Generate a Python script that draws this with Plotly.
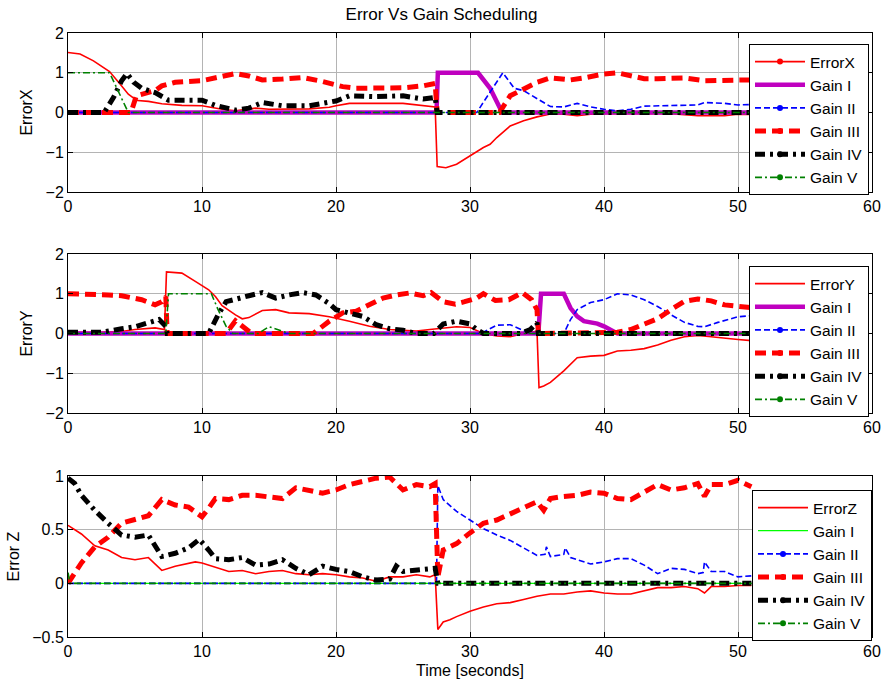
import plotly.graph_objects as go

# ---------------- data: subplot 1 (ErrorX) ----------------
errX_t = [0, 0.9, 1.9, 3.1, 3.9, 4.5, 4.9, 5.2, 6, 7, 8.5, 10, 11.5, 12.5, 14, 15, 18, 19.5, 20, 21, 25, 26, 27.4,
          27.55, 28.2, 29, 30, 31, 31.5, 32, 33, 34, 35, 36, 37, 38, 39, 40, 45, 47, 49, 50, 51]
errX = [1.51, 1.47, 1.3, 1.03, 0.71, 0.46, 0.36, 0.3, 0.28, 0.22, 0.18, 0.17, 0.08, 0.04, 0.11, 0.08, 0.09, 0.13,
        0.17, 0.23, 0.23, 0.19, 0.14, -1.36, -1.39, -1.3, -1.09, -0.88, -0.8, -0.63, -0.34, -0.21, -0.11, -0.04,
        -0.04, -0.08, -0.04, -0.03, -0.03, -0.08, -0.08, -0.04, -0.05]
g1X_t = [0, 27.5, 27.6, 30.6, 31.5, 32.3, 32.4, 51]
g1X = [0, 0, 1, 1, 0.61, 0.04, 0, 0]
g2X_t = [0, 30.5, 32.45, 33.3, 34, 35, 36, 37, 38, 39, 40, 41, 42, 43, 45, 47, 47.5, 49, 50, 51]
g2X = [0, 0, 1.0, 0.61, 0.55, 0.34, 0.15, 0.14, 0.23, 0.14, 0.08, 0.04, 0.08, 0.16, 0.17, 0.19, 0.25, 0.23, 0.19, 0.2]
g3X_t = [0, 4.7, 5.1, 5.5, 6.5, 7, 8, 10, 11, 12.5, 13.5, 14.5, 16, 17.5, 19, 20.5, 21.5, 24, 25, 26.5, 27.4,
         27.55, 32.2, 33, 34, 35, 36, 37.5, 38.5, 40, 41, 42, 43, 44, 46, 47.5, 49, 50, 51]
g3X = [0, 0, 0.42, 0.46, 0.55, 0.67, 0.76, 0.8, 0.88, 0.98, 0.92, 0.82, 0.84, 0.88, 0.78, 0.65, 0.61, 0.62, 0.62,
       0.67, 0.73, 0, 0, 0.42, 0.59, 0.76, 0.87, 0.82, 0.87, 0.97, 1.0, 0.92, 0.85, 0.85, 0.87, 0.8, 0.82, 0.82, 0.82]
g4X_t = [0, 2.7, 3.4, 4.0, 4.4, 4.9, 5.5, 6.5, 7.5, 8.5, 10, 11, 12.5, 13.5, 14.5, 16, 18, 19, 20, 21, 23, 25,
         26.5, 27.4, 27.55, 51]
g4X = [0, 0, 0.38, 0.8, 0.98, 0.76, 0.61, 0.5, 0.31, 0.31, 0.31, 0.18, 0.06, 0.11, 0.25, 0.17, 0.17, 0.23, 0.29,
       0.42, 0.4, 0.42, 0.34, 0.38, 0, 0]
g5X_t = [0, 3.1, 4.5, 51]
g5X = [1, 1, 0, 0]

# ---------------- data: subplot 2 (ErrorY) ----------------
errY_t = [0, 2, 4, 5, 6.5, 7.2, 7.35, 8.5, 9.5, 10.5, 11, 11.5, 12.5, 13, 13.5, 14.5, 15.5, 16.5, 18, 19.5, 21,
          22.5, 24, 26, 27, 28, 29, 30, 31, 32, 33, 34, 35, 35.15, 35.5, 36, 37, 38, 39, 40, 41, 42, 43, 44, 45,
          46, 47, 48, 49, 50, 51]
errY = [0.03, 0.03, 0.05, 0.1, 0.14, 0.1, 1.55, 1.52, 1.31, 1.1, 0.93, 0.7, 0.47, 0.37, 0.4, 0.58, 0.6, 0.52, 0.5,
        0.42, 0.31, 0.18, 0.1, 0.06, 0.1, 0.14, 0.17, 0.15, 0.0, -0.06, -0.08, 0.0, 0.06, -1.36, -1.32, -1.23,
        -0.94, -0.61, -0.57, -0.55, -0.44, -0.42, -0.38, -0.29, -0.17, -0.08, -0.05, -0.08, -0.12, -0.15, -0.18]
g1Y_t = [0, 35.1, 35.3, 37, 37.5, 38, 38.5, 39.5, 40, 40.7, 41, 51]
g1Y = [0, 0, 1, 1, 0.64, 0.43, 0.31, 0.25, 0.18, 0.06, 0, 0]
g2Y_t = [0, 30.8, 32, 33, 34.5, 37, 37.5, 38, 39, 40, 41, 42, 43, 44, 45, 46, 47, 47.5, 48.5, 50, 51]
g2Y = [0, 0, 0.21, 0.22, 0, 0, 0.35, 0.6, 0.78, 0.85, 1.0, 0.97, 0.85, 0.68, 0.47, 0.28, 0.18, 0.17, 0.28, 0.42, 0.45]
g3Y_t = [0, 2, 3, 4, 5.5, 6.5, 7, 7.3, 7.4, 11.8, 12.5, 13.7, 18.3, 19.5, 20.5, 21.5, 22.5, 23.5, 24.5, 25.5,
         26.5, 27.1, 28, 28.9, 29.6, 30.5, 31, 31.9, 32.9, 33.9, 34.6, 35.0, 35.1, 40.5, 41, 42, 43, 44, 45, 46,
         47, 48, 49, 50, 51]
g3Y = [1.0, 1.0, 0.97, 0.95, 0.85, 0.72, 0.8, 0.93, 0, 0, 0.32, 0, 0, 0.31, 0.52, 0.56, 0.72, 0.89, 0.97, 1.02,
       0.95, 1.03, 0.8, 0.74, 0.8, 0.89, 1.0, 0.83, 0.85, 1.03, 0.85, 0.6, 0, 0, 0.03, 0.1, 0.22, 0.37, 0.6, 0.81,
       0.87, 0.82, 0.72, 0.68, 0.65]
g4Y_t = [0, 2.5, 4, 5, 6, 6.8, 7.3, 7.4, 10.5, 11.2, 11.8, 12.5, 13.5, 14.5, 15.5, 16.5, 17.5, 18.5, 19.5, 20,
         21, 22, 23, 24, 25, 26, 27.3, 28, 29, 30, 30.5, 31, 33.8, 34.5, 35, 35.1, 51]
g4Y = [0.03, 0.03, 0.12, 0.17, 0.27, 0.35, 0.18, 0, 0, 0.47, 0.8, 0.85, 0.95, 1.03, 0.89, 0.97, 1.03, 0.97, 0.75,
       0.6, 0.52, 0.43, 0.22, 0.12, 0.08, 0, 0, 0.24, 0.31, 0.24, 0.1, 0, 0, 0.1, 0.27, 0, 0]
g5Y_t = [0, 7.3, 7.5, 10.7, 11.2, 11.8, 12.3, 14.2, 15, 16, 16.5, 51]
g5Y = [0, 0, 1, 1, 0.6, 0.18, 0, 0, 0.17, 0.05, 0, 0]

# ---------------- data: subplot 3 (Error Z) ----------------
errZ_t = [0, 1, 2, 3, 4, 5, 6, 7, 8, 9.5, 10, 11, 12, 13, 14, 15, 16, 17, 18, 19, 20, 21, 22, 23, 24, 25, 26, 27,
          27.4, 27.6, 28, 28.5, 29, 30, 31, 32, 33, 34, 35, 36, 37, 38, 39, 40, 41, 42, 43, 44, 45, 46, 47, 47.5,
          48, 49, 50, 51]
errZ = [0.54, 0.46, 0.35, 0.31, 0.24, 0.22, 0.24, 0.12, 0.16, 0.2, 0.19, 0.15, 0.11, 0.12, 0.09, 0.11, 0.12, 0.09,
        0.08, 0.09, 0.08, 0.06, 0.05, 0.02, 0.06, 0.06, 0.08, 0.06, 0.08, -0.43, -0.36, -0.34, -0.31, -0.26, -0.22,
        -0.19, -0.18, -0.15, -0.12, -0.1, -0.1, -0.08, -0.07, -0.09, -0.1, -0.1, -0.07, -0.04, -0.04, -0.03, -0.05,
        -0.09, -0.03, -0.03, -0.02, -0.02]
g1Z_t = [0, 51]
g1Z = [0, 0]
g2Z_t = [0, 27.5, 27.6, 28, 29, 30, 31, 32, 33, 34, 35, 35.6, 35.7, 36, 37, 37.1, 37.5, 38, 39, 40, 41, 42, 43, 44,
         45, 46, 47, 47.4, 47.5, 48, 49, 50, 51]
g2Z = [0, 0, 0.91, 0.78, 0.67, 0.59, 0.51, 0.45, 0.4, 0.33, 0.26, 0.27, 0.34, 0.25, 0.27, 0.33, 0.24, 0.22, 0.18,
       0.2, 0.23, 0.23, 0.17, 0.09, 0.14, 0.13, 0.09, 0.1, 0.2, 0.11, 0.11, 0.06, 0.07]
g3Z_t = [0, 1, 2, 3, 4, 5, 6, 7, 7.5, 8, 9, 10, 10.5, 11, 12, 13, 14, 15, 16, 17, 18, 19, 20, 21, 22, 23, 24, 25,
         26, 27, 27.4, 27.6, 28, 29, 30, 31, 32, 33, 34, 35, 35.5, 36, 37, 38, 39, 40, 41, 42, 43, 44, 45, 46, 47,
         47.5, 48, 49, 50, 51]
g3Z = [0, 0.19, 0.34, 0.43, 0.56, 0.59, 0.63, 0.78, 0.75, 0.73, 0.71, 0.62, 0.7, 0.79, 0.78, 0.82, 0.82, 0.81,
       0.79, 0.89, 0.87, 0.84, 0.87, 0.92, 0.95, 0.98, 0.99, 0.87, 0.92, 0.9, 0.93, 0.06, 0.31, 0.37, 0.47, 0.56,
       0.59, 0.65, 0.71, 0.76, 0.68, 0.79, 0.81, 0.82, 0.85, 0.84, 0.79, 0.78, 0.85, 0.92, 0.87, 0.89, 0.93, 0.81,
       0.92, 0.92, 0.96, 0.9]
g4Z_t = [0, 0.5, 1, 2, 3, 4, 5, 6, 7, 8, 9, 9.8, 10.5, 11, 12, 13, 14, 15, 16, 17, 18, 19, 20, 21, 22, 23, 24,
         24.5, 25, 26, 27, 27.4, 27.6, 51]
g4Z = [0.98, 0.93, 0.82, 0.68, 0.56, 0.45, 0.43, 0.45, 0.25, 0.28, 0.33, 0.41, 0.31, 0.23, 0.22, 0.24, 0.17, 0.18,
       0.22, 0.14, 0.08, 0.16, 0.13, 0.11, 0.06, 0.03, 0.04, 0.16, 0.11, 0.12, 0.13, 0.14, 0, 0]
g5Z_t = [0, 0.15, 51]
g5Z = [0.1, 0, 0]

# ---------------- labels ----------------
series_names = ["Gain I", "Gain II", "Gain III", "Gain IV", "Gain V"]
error_names = ["ErrorX", "ErrorY", "ErrorZ"]
ylabels = ["ErrorX", "ErrorY", "Error Z"]
x_ticks = [0, 10, 20, 30, 40, 50, 60]

MAG = "#BF00BF"
styles = {
    "err": dict(color="#FF0000", width=1.6, dash="solid"),
    "g1": dict(color=MAG, width=4.5, dash="solid"),
    "g1z": dict(color="#00FF00", width=1.2, dash="solid"),
    "g2": dict(color="#0000FF", width=1.6, dash="6px,3px"),
    "g3": dict(color="#FF0000", width=5, dash="11px,6px"),
    "g4": dict(color="#000000", width=5, dash="10px,5px,3px,5px"),
    "g5": dict(color="#008000", width=1.6, dash="7px,3px,2px,3px"),
}

fig = go.Figure()

panels = [
    (errX_t, errX, [(g1X_t, g1X), (g2X_t, g2X), (g3X_t, g3X), (g4X_t, g4X), (g5X_t, g5X)], "g1", True),
    (errY_t, errY, [(g1Y_t, g1Y), (g2Y_t, g2Y), (g3Y_t, g3Y), (g4Y_t, g4Y), (g5Y_t, g5Y)], "g1", False),
    (errZ_t, errZ, [(g1Z_t, g1Z), (g2Z_t, g2Z), (g3Z_t, g3Z), (g4Z_t, g4Z), (g5Z_t, g5Z)], "g1z", False),
]

for i, (et, ev, gains, g1style, err_marker) in enumerate(panels):
    xa = "x" if i == 0 else f"x{i+1}"
    ya = "y" if i == 0 else f"y{i+1}"
    lg = "legend" if i == 0 else f"legend{i+1}"
    keys = ["err", g1style, "g2", "g3", "g4", "g5"]
    data = [(et, ev)] + gains
    names = [error_names[i]] + series_names
    markers = [err_marker, False, True, True, True, True]
    for k, (tt, vv) in zip(keys, data):
        st = styles[k]
        fig.add_trace(go.Scatter(x=tt, y=vv, mode="lines", xaxis=xa, yaxis=ya, showlegend=False,
                                 line=dict(color=st["color"], width=st["width"], dash=st["dash"])))
    for k, nm, mk in zip(keys, names, markers):
        st = styles[k]
        fig.add_trace(go.Scatter(x=[None], y=[None], mode="lines+markers" if mk else "lines",
                                 xaxis=xa, yaxis=ya, name=nm, legend=lg, showlegend=True,
                                 marker=dict(color=st["color"], size=6),
                                 line=dict(color=st["color"], width=st["width"], dash=st["dash"])))

H, W = 684, 883
top, bot = 33, 47
ph = H - top - bot
def dom(t, b):
    return [(H - bot - b) / ph, (H - bot - t) / ph]

axis_common = dict(showline=True, linecolor="black", linewidth=1, mirror="ticks", ticks="inside",
                   ticklen=5, tickcolor="black", showgrid=True, gridcolor="#b4b4b4", gridwidth=1,
                   zeroline=False, tickfont=dict(size=16, color="black"), automargin=False)

domains = [dom(33, 192), dom(254, 413), dom(476, 637)]
yranges = [[-2, 2], [-2, 2], [-0.5, 1]]
ydticks = [1, 1, 0.5]
for i in range(3):
    sx = "" if i == 0 else str(i + 1)
    fig.update_layout(**{
        f"xaxis{sx}": dict(axis_common, range=[0, 60], tickvals=x_ticks, domain=[0, 1],
                           anchor=f"y{sx}",
                           title=dict(text="Time [seconds]" if i == 2 else "", font=dict(size=16), standoff=5)),
        f"yaxis{sx}": dict(axis_common, range=yranges[i], dtick=ydticks[i], domain=domains[i],
                           anchor=f"x{sx}", title=dict(text=ylabels[i], font=dict(size=16), standoff=8)),
    })

leg_common = dict(bgcolor="white", bordercolor="black", borderwidth=1, xanchor="left", yanchor="top",
                  font=dict(size=15.5, color="black"), tracegroupgap=0, itemwidth=50)
fig.update_layout(
    legend=dict(leg_common, x=(749 - 68) / 804, y=dom(44, 44)[1]),
    legend2=dict(leg_common, x=(749 - 68) / 804, y=dom(266, 266)[1]),
    legend3=dict(leg_common, x=(752 - 68) / 804, y=dom(490, 490)[1]),
)

fig.update_layout(
    width=W, height=H,
    margin=dict(l=68, r=W - 872, t=top, b=bot, autoexpand=False),
    paper_bgcolor="white", plot_bgcolor="white",
    font=dict(family="Liberation Sans, Arial, sans-serif", color="black", size=16),
    title=dict(text="Error Vs Gain Scheduling", x=0.5, xanchor="center", y=1 - 14 / H, yanchor="middle",
               font=dict(size=17)),
)

fig.write_html("out.html", config={"displayModeBar": False},
               post_script="document.body.style.margin='0';document.body.style.overflow='hidden';")
